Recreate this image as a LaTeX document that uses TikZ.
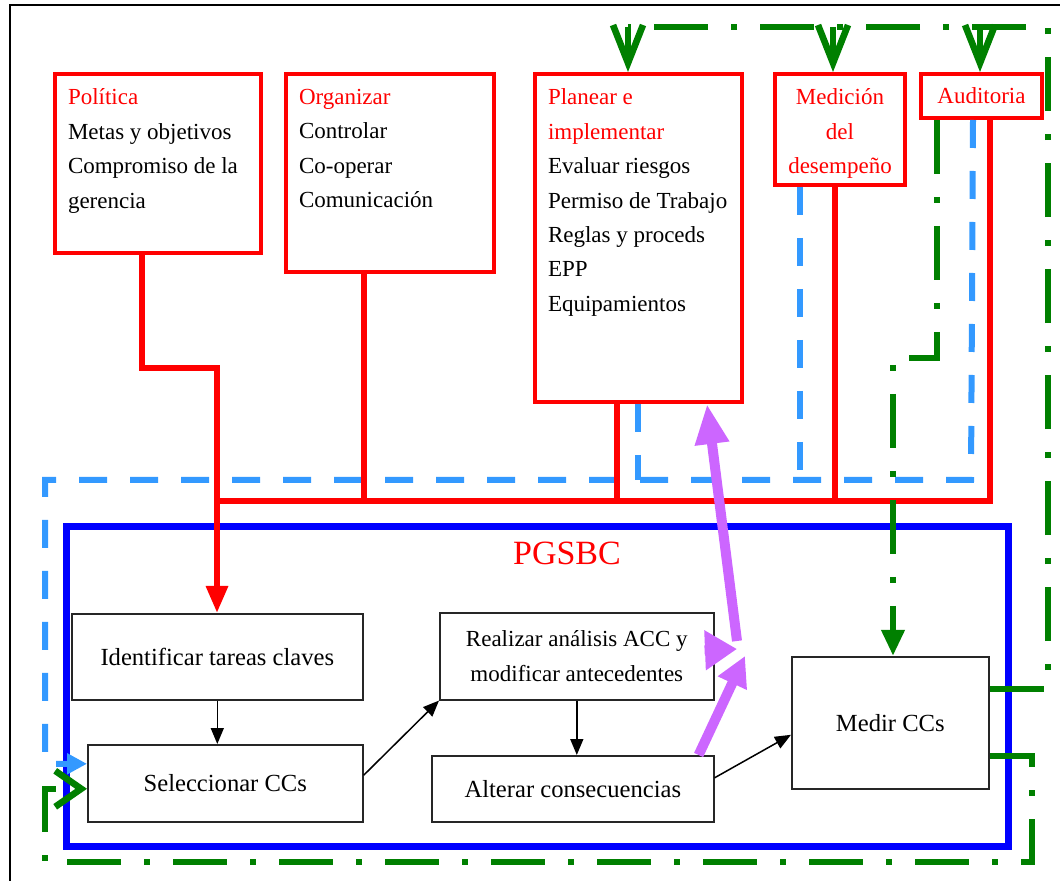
\documentclass[tikz,border=0pt]{standalone}
\usepackage{fontspec}
\setmainfont{Liberation Serif}
\usepackage{xcolor}
\usetikzlibrary{arrows.meta,calc,positioning}

\definecolor{boxred}{RGB}{255,0,0}
\definecolor{pgsblue}{RGB}{0,0,255}
\definecolor{skyblue}{RGB}{51,153,255}
\definecolor{loopgreen}{RGB}{0,128,0}
\definecolor{arrowviolet}{RGB}{204,102,255}

\newcommand{\toptext}{\fontsize{11.5}{17.2}\selectfont}
\newcommand{\boxtext}{\fontsize{12.3}{17}\selectfont}

\begin{document}
\begin{tikzpicture}[x=0.5pt, y=-0.5pt,
		redbox/.style={draw=boxred, line width=2pt, anchor=north west, inner xsep=6.5pt, inner ysep=7.5pt, font=\toptext},
		ccbox/.style={draw=black!85, line width=0.8pt, anchor=north west, inner sep=0pt, align=center, font=\boxtext},
		redline/.style={draw=boxred, line width=3pt},
		bluedash/.style={draw=skyblue, line width=3pt, dash pattern=on 14pt off 11.5pt},
		greendash/.style={draw=loopgreen, line width=3.3pt, dash pattern=on 27pt off 11.5pt on 3pt off 11.5pt},
		violetarrow/.style={draw=arrowviolet, line width=5pt},
		arrow/.style={line width=0.75pt, -{Triangle[length=8pt,width=6.5pt]}}]
	\useasboundingbox (0,0) rectangle (1060,881);

	% frame
	\draw[line width=1pt] (10,881) -- (10,5) -- (1060,5);

	% management boxes
	\node[redbox] (pol) at (53,72) {\parbox[c][74.5pt][t]{90pt}{\raggedright{\color{boxred}Política}\\Metas y objetivos\\Compromiso de la\\gerencia}};

	\node[redbox] (org) at (284,72) {\parbox[c][84pt][t]{91pt}{\raggedright{\color{boxred}Organizar}\\Controlar\\Co-operar\\Comunicación}};

	\node[redbox] (plan) at (533,72) {\parbox[c][149pt][t]{90.5pt}{\raggedright{\color{boxred}Planear e\\implementar}\\Evaluar riesgos\\Permiso de Trabajo\\Reglas y proceds\\EPP\\Equipamientos}};

	\node[redbox, inner xsep=2pt] (med) at (773,72) {\parbox[c][40.5pt][t]{61pt}{\centering\color{boxred}Medición\\del\\desempeño}};

	\node[redbox, inner sep=0pt, minimum width=60.5pt, minimum height=22pt, text=boxred] (audit) at (919,72) {Auditoria};

	% PGSBC frame
	\node[draw=pgsblue, line width=3.5pt, anchor=north west, minimum width=471pt, minimum height=160pt] (pgsbc) at (63,523) {};
	\node[text=boxred, font=\fontsize{17}{20}\selectfont] (pgsbctitle) at (567,553) {PGSBC};

	% CC steps
	\node[ccbox, minimum width=145.5pt, minimum height=43pt] (ident) at (71,613) {Identificar tareas claves};
	\node[ccbox, minimum width=137.5pt, minimum height=38.5pt] (sel) at (87,744) {Seleccionar CCs};
	\node[ccbox, minimum width=137pt, minimum height=43.5pt, font=\toptext] (real) at (439,612) {Realizar análisis ACC y\\modificar antecedentes};
	\node[ccbox, minimum width=141pt, minimum height=33pt] (alt) at (431,755) {Alterar consecuencias};
	\node[ccbox, minimum width=98.5pt, minimum height=66pt] (medir) at (791,656) {Medir CCs};

	% helper points
	\coordinate (busl) at (217,501);
	\coordinate (polbend) at (217,368);
	\coordinate (btr) at (971,480);
	\coordinate (btl) at (45,480);
	\coordinate (bplan) at (638,480);
	\coordinate (bmed) at (800,480);
	\coordinate (gtr) at (1048,27);
	\coordinate (gtl) at (628,27);
	\coordinate (gtm) at (833,27);
	\coordinate (gta) at (980,27);
	\coordinate (gbend) at (893,358);
	\coordinate (gbr) at (1032,862);
	\coordinate (gbl) at (45,862);
	\coordinate (pjoin) at (745,656);
	\coordinate (pright) at (737,649);
	\coordinate (pstart) at (737,641);

	% blue dashed feedback
	\draw[bluedash] ($(plan.south west)+(105,0)$) -- (bplan);
	\draw[bluedash] ($(med.south west)+(27,0)$) -- (bmed);
	\draw[bluedash, -{Triangle[length=10pt,width=10pt]}] ($(audit.south)+(-8.5,0)$) -- (btr) -- (btl) |- ($(sel.west)+(0,-19.5)$);

	% red lines
	\coordinate (orgfoot) at ($(org.south)+(-26,0)$);
	\coordinate (planfoot) at ($(plan.south)+(-21.5,0)$);
	\coordinate (medfoot) at ($(med.south)+(-5,0)$);
	\draw[redline] (busl) -| ($(audit.south)+(8.5,0)$);
	\draw[redline] (orgfoot) -- (orgfoot |- busl);
	\draw[redline] (planfoot) -- (planfoot |- busl);
	\draw[redline] (medfoot) -- (medfoot |- busl);
	\draw[redline, -{Triangle[length=13.5pt,width=10.5pt]}] ($(pol.south)+(-16.5,0)$) |- (polbend) -- (polbend |- ident.north);

	% green loops
	\draw[greendash] ($(medir.east)+(0,-34)$) -| (gtr) -- (gtl);
	\draw[loopgreen, line width=3.3pt, -{Straight Barb[length=19pt,width=15pt]}] (gtl) -- (gtl |- plan.north);
	\draw[loopgreen, line width=3.3pt, -{Straight Barb[length=19pt,width=15pt]}] (gtm) -- (gtm |- med.north);
	\draw[loopgreen, line width=3.3pt, -{Straight Barb[length=19pt,width=15pt]}] (gta) -- (gta |- audit.north);
	\draw[greendash, -{Triangle[length=13pt,width=11pt]}] ($(audit.south west)+(18,0)$) |- (gbend) -- (gbend |- medir.north);
	\draw[greendash, -{Straight Barb[length=13pt,width=18pt]}] ($(medir.east)+(0,33)$) -| (gbr) -- (gbl) |- ($(sel.west)+(0,5.5)$);

	% violet arrows
	\draw[violetarrow, -{Triangle[length=15pt,width=15pt]}] ($(alt.north east)+(-16,0)$) -- (pjoin);
	\draw[violetarrow, -{Triangle[length=16pt,width=19pt]}] ($(real.east)+(-10,-6)$) -- (pright);
	\draw[violetarrow, -{Triangle[length=20pt,width=16pt]}] (pstart) -- ($(plan.south)+(68.5,0)$);

	% black arrows
	\draw[arrow] (ident.south) -- (ident.south |- sel.north);
	\draw[arrow] ($(sel.east)+(0,-8)$) -- (real.south west);
	\draw[arrow] (real.south) -- (real.south |- alt.north);
	\draw[arrow] ($(alt.east)+(0,-11)$) -- ($(medir.west)+(0,12)$);

\end{tikzpicture}
\end{document}
